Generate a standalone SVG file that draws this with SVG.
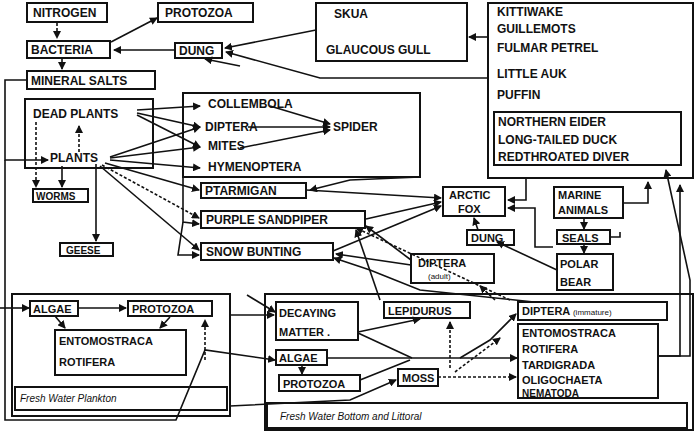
<svg xmlns="http://www.w3.org/2000/svg" width="697" height="435" viewBox="0 0 697 435">
<style>
text{font-family:"Liberation Sans",Arial,sans-serif;font-size:12px;fill:#111;font-weight:bold}
.b{fill:none;stroke:#111;stroke-width:2}
.c path,.c line,.c polyline{fill:none;stroke:#111;stroke-width:1.6}
.d{stroke-dasharray:3 2}
.i{font-style:italic;font-weight:normal;font-size:10px}
.s{font-size:8px;font-weight:normal}
</style>
<defs><marker id="a" markerWidth="8" markerHeight="8" refX="7" refY="4" orient="auto" markerUnits="userSpaceOnUse"><path d="M0,0L8,4L0,8z" fill="#111"/></marker></defs>
<rect width="697" height="435" fill="#fff"/>
<g class="c">
<line class="d" x1="57" y1="23" x2="57" y2="38" marker-end="url(#a)"/>
<line x1="111" y1="42" x2="157" y2="18" marker-end="url(#a)"/>
<line x1="174" y1="50" x2="114" y2="50" marker-end="url(#a)"/>
<line x1="62" y1="58" x2="62" y2="69" marker-end="url(#a)"/>
<line x1="316" y1="30" x2="225" y2="48" marker-end="url(#a)"/>
<line x1="240" y1="66" x2="205" y2="59" marker-end="url(#a)"/>
<polyline points="488,78 320,78 226,52" marker-end="url(#a)"/>
<line x1="488" y1="37" x2="469" y2="37" marker-end="url(#a)"/>
<polyline points="27,80 5,80 5,160 48,160" marker-end="url(#a)"/>
<polyline points="5,160 5,420 176,420 205,350 275,360" marker-end="url(#a)"/>
<polyline points="0,308 29,308" marker-end="url(#a)"/>
<line class="d" x1="36" y1="122" x2="36" y2="187" marker-end="url(#a)"/>
<line x1="62" y1="166" x2="62" y2="187" marker-end="url(#a)"/>
<line class="d" x1="79" y1="152" x2="79" y2="126" marker-end="url(#a)"/>
<line x1="96" y1="164" x2="96" y2="241" marker-end="url(#a)"/>
<line x1="137" y1="110" x2="200" y2="106" marker-end="url(#a)"/>
<line x1="137" y1="113" x2="200" y2="127" marker-end="url(#a)"/>
<line x1="137" y1="115" x2="200" y2="147" marker-end="url(#a)"/>
<line x1="110" y1="157" x2="200" y2="127" marker-end="url(#a)"/>
<line x1="110" y1="158" x2="200" y2="147" marker-end="url(#a)"/>
<line x1="110" y1="160" x2="200" y2="168" marker-end="url(#a)"/>
<line x1="105" y1="163" x2="199" y2="190" marker-end="url(#a)"/>
<line class="d" x1="102" y1="165" x2="199" y2="218" marker-end="url(#a)"/>
<line x1="100" y1="166" x2="199" y2="250" marker-end="url(#a)"/>
<line x1="270" y1="106" x2="330" y2="124" marker-end="url(#a)"/>
<line x1="248" y1="127" x2="330" y2="127" marker-end="url(#a)"/>
<line x1="240" y1="148" x2="330" y2="130" marker-end="url(#a)"/>
<polyline points="420,177 350,180 310,190" marker-end="url(#a)"/>
<polyline points="183,177 183,222 199,224" marker-end="url(#a)"/>
<polyline points="183,222 178,255 199,255" marker-end="url(#a)"/>
<line x1="366" y1="219" x2="441" y2="202" marker-end="url(#a)"/>
<line x1="306" y1="190" x2="441" y2="198" marker-end="url(#a)"/>
<line x1="333" y1="251" x2="441" y2="206" marker-end="url(#a)"/>
<polyline points="526,178 526,200 508,200" marker-end="url(#a)"/>
<polyline points="553,247 535,247 535,208 508,208" marker-end="url(#a)"/>
<line x1="478" y1="230" x2="474" y2="218" marker-end="url(#a)"/>
<line x1="557" y1="270" x2="497" y2="242" marker-end="url(#a)"/>
<polyline points="623,203 648,203 648,182" marker-end="url(#a)"/>
<polyline points="610,237 620,237 620,232" />
<line x1="584" y1="218" x2="584" y2="229" marker-end="url(#a)"/>
<line x1="584" y1="244" x2="584" y2="253" marker-end="url(#a)"/>
<line x1="411" y1="260" x2="366" y2="226" marker-end="url(#a)"/>
<line x1="411" y1="265" x2="336" y2="254" marker-end="url(#a)"/>
<polyline points="534,302 420,290 370,270 334,258" marker-end="url(#a)"/>
<line class="d" x1="510" y1="300" x2="356" y2="228" marker-end="url(#a)"/>
<line class="d" x1="495" y1="300" x2="480" y2="286" marker-end="url(#a)"/>
<line x1="380" y1="300" x2="356" y2="230" marker-end="url(#a)"/>
<polyline points="680,320 680,185" marker-end="url(#a)"/>
<polyline points="658,356 690,356 690,280 666,170" marker-end="url(#a)"/>
<polyline points="658,356 680,356 680,320"/>
<line x1="78" y1="308" x2="126" y2="308" marker-end="url(#a)"/>
<line x1="55" y1="316" x2="65" y2="328" marker-end="url(#a)"/>
<line x1="170" y1="317" x2="160" y2="328" marker-end="url(#a)"/>
<line class="d" x1="205" y1="360" x2="205" y2="320" marker-end="url(#a)"/>
<line x1="230" y1="315" x2="274" y2="315" marker-end="url(#a)"/>
<line x1="247" y1="295" x2="275" y2="312" marker-end="url(#a)"/>
<line x1="358" y1="332" x2="420" y2="319" marker-end="url(#a)"/>
<polyline points="358,333 412,358"/>
<line x1="327" y1="358" x2="517" y2="358" marker-end="url(#a)"/>
<line x1="360" y1="380" x2="410" y2="360"/>
<polyline points="460,358 490,340 516,314" marker-end="url(#a)"/>
<line x1="302" y1="366" x2="302" y2="374" marker-end="url(#a)"/>
<line class="d" x1="450" y1="368" x2="450" y2="322" marker-end="url(#a)"/>
<line class="d" x1="438" y1="377" x2="516" y2="377" marker-end="url(#a)"/>
<line class="d" x1="455" y1="372" x2="500" y2="338" marker-end="url(#a)"/>
<polyline points="230,406 350,400 396,380" marker-end="url(#a)"/>
</g>
<g id="nitrogen"><rect class="b" x="27" y="3" width="80" height="19"/><text x="33" y="17">NITROGEN</text></g>
<g id="protozoa1"><rect class="b" x="158" y="3" width="95" height="19"/><text x="165" y="17">PROTOZOA</text></g>
<g id="bacteria"><rect class="b" x="27" y="41" width="83" height="17"/><text x="31" y="54">BACTERIA</text></g>
<g id="dung1"><rect class="b" x="175" y="43" width="47" height="15"/><text x="179" y="55">DUNG</text></g>
<g id="mineral"><rect class="b" x="27" y="71" width="128" height="18"/><text x="31" y="85">MINERAL SALTS</text></g>
<g id="skua"><rect class="b" x="316" y="3" width="151" height="58"/><text x="334" y="18">SKUA</text><text x="326" y="54">GLAUCOUS GULL</text></g>
<g id="birds"><rect class="b" x="488" y="3" width="205" height="175"/><text x="497" y="16">KITTIWAKE</text><text x="497" y="33">GUILLEMOTS</text><text x="497" y="52">FULMAR PETREL</text><text x="497" y="78">LITTLE AUK</text><text x="497" y="99">PUFFIN</text>
<rect class="b" x="494" y="112" width="187" height="53"/><text x="498" y="126">NORTHERN EIDER</text><text x="498" y="144">LONG-TAILED DUCK</text><text x="498" y="161">REDTHROATED DIVER</text></g>
<g id="plants"><rect class="b" x="25" y="99" width="128" height="69"/><text x="33" y="118">DEAD PLANTS</text><text x="50" y="162">PLANTS</text></g>
<g id="insects"><rect class="b" x="183" y="93" width="237" height="84"/><text x="208" y="108">COLLEMBOLA</text><text x="205" y="131">DIPTERA</text><text x="208" y="150">MITES</text><text x="208" y="171">HYMENOPTERA</text><text x="333" y="131">SPIDER</text></g>
<g id="worms"><rect class="b" x="33" y="189" width="55" height="13"/><text x="36" y="200" style="font-size:10px">WORMS</text></g>
<g id="geese"><rect class="b" x="60" y="243" width="53" height="13"/><text x="66" y="254" style="font-size:10px">GEESE</text></g>
<g id="ptarmigan"><rect class="b" x="201" y="183" width="105" height="15"/><text x="205" y="195">PTARMIGAN</text></g>
<g id="sandpiper"><rect class="b" x="201" y="211" width="164" height="17"/><text x="206" y="224">PURPLE SANDPIPER</text></g>
<g id="bunting"><rect class="b" x="201" y="243" width="132" height="17"/><text x="206" y="256">SNOW BUNTING</text></g>
<g id="fox"><rect class="b" x="443" y="187" width="62" height="29"/><text x="449" y="199" style="font-size:11px">ARCTIC</text><text x="458" y="213" style="font-size:11px">FOX</text></g>
<g id="dung2"><rect class="b" x="467" y="230" width="47" height="15"/><text x="471" y="242" style="font-size:11px">DUNG</text></g>
<g id="marine"><rect class="b" x="554" y="187" width="69" height="31"/><text x="558" y="199" style="font-size:11px">MARINE</text><text x="558" y="214" style="font-size:11px">ANIMALS</text></g>
<g id="seals"><rect class="b" x="557" y="230" width="53" height="14"/><text x="562" y="242" style="font-size:11px">SEALS</text></g>
<g id="bear"><rect class="b" x="557" y="254" width="56" height="36"/><text x="560" y="268" style="font-size:11px">POLAR</text><text x="560" y="286" style="font-size:11px">BEAR</text></g>
<g id="dipadult"><rect class="b" x="411" y="254" width="83" height="29"/><text x="418" y="267" style="font-size:11px">DIPTERA</text><text x="428" y="279" class="s">(adult)</text></g>
<g id="plankton"><rect class="b" x="12" y="294" width="218" height="122"/><rect class="b" x="15" y="387" width="212" height="23"/><text x="20" y="402" class="i">Fresh Water  Plankton</text>
<rect class="b" x="30" y="301" width="48" height="15"/><text x="33" y="313" style="font-size:11px">ALGAE</text>
<rect class="b" x="128" y="301" width="84" height="15"/><text x="132" y="313" style="font-size:11px">PROTOZOA</text>
<rect class="b" x="55" y="330" width="131" height="45"/><text x="59" y="345" style="font-size:11px">ENTOMOSTRACA</text><text x="59" y="366" style="font-size:11px">ROTIFERA</text></g>
<g id="bottom"><rect class="b" x="265" y="294" width="428" height="136"/><rect class="b" x="267" y="403" width="420" height="25"/><text x="280" y="420" class="i">Fresh  Water   Bottom   and   Littoral</text>
<rect class="b" x="276" y="302" width="82" height="38"/><text x="279" y="317" style="font-size:11px">DECAYING</text><text x="279" y="336" style="font-size:11px">MATTER .</text>
<rect class="b" x="384" y="302" width="86" height="16"/><text x="388" y="315" style="font-size:11px">LEPIDURUS</text>
<rect class="b" x="518" y="302" width="149" height="18"/><text x="522" y="315" style="font-size:11px">DIPTERA <tspan class="s">(immature)</tspan></text>
<rect class="b" x="518" y="324" width="140" height="74"/><text x="522" y="337" style="font-size:11px">ENTOMOSTRACA</text><text x="522" y="353" style="font-size:11px">ROTIFERA</text><text x="522" y="369" style="font-size:11px">TARDIGRADA</text><text x="522" y="384" style="font-size:11px">OLIGOCHAETA</text><text x="522" y="397" style="font-size:10px">NEMATODA</text>
<rect class="b" x="276" y="350" width="51" height="15"/><text x="279" y="362" style="font-size:11px">ALGAE</text>
<rect class="b" x="279" y="375" width="81" height="16"/><text x="283" y="388" style="font-size:11px">PROTOZOA</text>
<rect class="b" x="398" y="369" width="40" height="17"/><text x="402" y="382" style="font-size:11px">MOSS</text></g>
</svg>
